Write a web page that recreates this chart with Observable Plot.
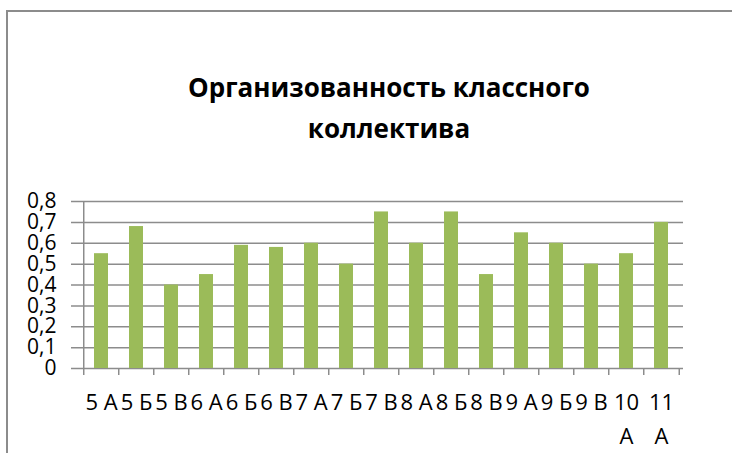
<!DOCTYPE html>
<html>
<head>
<meta charset="utf-8">
<script src="https://cdn.jsdelivr.net/npm/d3@7"></script>
<script src="https://cdn.jsdelivr.net/npm/@observablehq/plot@0.6"></script>
<style>
  html, body { margin: 0; padding: 0; background: #fff; }
  #wrap { position: relative; width: 732px; height: 453px; overflow: hidden; font-family: "Open Sans", sans-serif; color: #000; }
  #border { position: absolute; left: 6px; top: 10px; right: -10px; bottom: -10px; border-top: 2px solid #8c8c8c; border-left: 2px solid #8c8c8c; }
  #title { position: absolute; left: 89px; width: 600px; top: 67px; text-align: center; font-weight: bold; font-size: 26px; line-height: 41px; }
  #chart { position: absolute; left: 0; top: 180px; }
</style>
</head>
<body>
<div id="wrap">
  <div id="border"></div>
  <div id="title">Организованность классного<br>коллектива</div>
  <div id="chart"></div>
</div>
<script>
const categories = ["5 А","5 Б","5 В","6 А","6 Б","6 В","7 А","7 Б","7 В","8 А","8 Б","8 В","9 А","9 Б","9 В","10 А","11 А"];
const values = [0.55,0.68,0.40,0.45,0.59,0.58,0.60,0.50,0.75,0.60,0.75,0.45,0.65,0.60,0.50,0.55,0.70];
const xTickLabels = ["5 А","5 Б","5 В","6 А","6 Б","6 В","7 А","7 Б","7 В","8 А","8 Б","8 В","9 А","9 Б","9 В","10\nА","11\nА"];
const yTicks = [0,0.1,0.2,0.3,0.4,0.5,0.6,0.7,0.8];
const yTickLabels = ["0","0,1","0,2","0,3","0,4","0,5","0,6","0,7","0,8"];

const data = categories.map((c, i) => ({cat: c, value: values[i], label: xTickLabels[i]}));

const W = 732, H = 273, ML = 79, MR = 49, MT = 21, MB = 85;
const step = (W - ML - MR) / categories.length;
const grid = "#8c8c8c";
const last = categories[categories.length - 1];

const chart = Plot.plot({
  width: W, height: H,
  marginLeft: ML, marginRight: MR, marginTop: MT, marginBottom: MB,
  style: {fontFamily: "Open Sans, sans-serif", color: "#000", background: "transparent", overflow: "visible"},
  x: {domain: categories, paddingInner: 0.6, paddingOuter: 0.3, axis: null},
  y: {domain: [0, 0.8], axis: null},
  marks: [
    Plot.ruleY(yTicks, {y: d => d, stroke: grid, strokeWidth: 1.5, insetLeft: -8}),
    Plot.barY(data, {x: "cat", y: "value", fill: "#9bbb59"}),
    Plot.ruleX([categories[0]], {x: d => d, dx: -step / 2, stroke: grid, strokeWidth: 1.5}),
    Plot.ruleX(categories, {x: d => d, y1: 0, y2: 0, insetBottom: -7, dx: -step / 2, stroke: grid, strokeWidth: 1.5}),
    Plot.ruleX([last], {x: d => d, y1: 0, y2: 0, insetBottom: -7, dx: step / 2, stroke: grid, strokeWidth: 1.5}),
    Plot.text(yTicks, {y: d => d, text: (d, i) => yTickLabels[i], frameAnchor: "left", textAnchor: "end", dx: -23, fontSize: 21, fill: "#000"}),
    Plot.text(data, {x: "cat", text: "label", frameAnchor: "bottom", lineAnchor: "top", dy: 17, lineHeight: 1.55, fontSize: 22, fill: "#000"})
  ]
});
document.getElementById("chart").appendChild(chart);
</script>
</body>
</html>
